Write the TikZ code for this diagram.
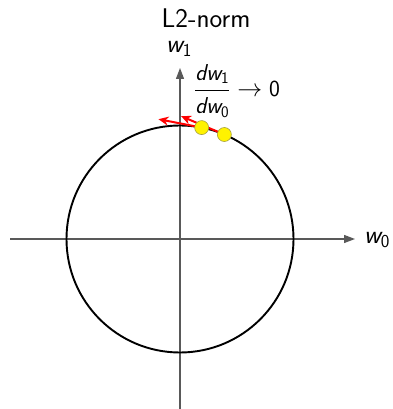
\documentclass[tikz,border=0pt]{standalone}
\usepackage{amsmath}
\usetikzlibrary{arrows.meta, calc}

\begin{document}
\begin{tikzpicture}[x=1pt, y=1pt,
  axis/.style={draw=black!65, line width=1.3pt, -{Triangle[length=11pt, width=8pt]}},
  grad/.style={draw=red, line width=2pt, -{Stealth[length=10pt, width=9pt]}},
  ball/.style={circle, fill=yellow, draw=black!40!yellow, line width=0.6pt, minimum size=14pt, inner sep=0pt},
  lbl/.style={font=\sffamily\fontsize{26}{30}\selectfont, inner sep=0pt}]
\useasboundingbox (0,0) rectangle (392,409);
% unit ball of the L2 norm
\def\r{113.5}
\coordinate (O) at (180,170);
\coordinate (W0a) at (10,170);
\coordinate (W0b) at (355,170);
\coordinate (W1a) at (180,0);
\coordinate (W1b) at (180,341);

\draw[axis] (W0a) -- (W0b);
\draw[axis] (W1a) -- (W1b);
\draw[line width=1.9pt] (O) circle (\r);

% two points and their tangent directions
\coordinate (P1) at ($(O)+(79:\r)$);
\coordinate (P2) at ($(O)+(67:\r)$);
\coordinate (T1) at ($(P1)+(169:44)$);
\coordinate (T2) at ($(P2)+(157:47)$);
\draw[grad] (P2) -- (T2);
\draw[grad] (P1) -- (T1);
\node[ball] (b1) at (P1) {};
\node[ball] (b2) at (P2) {};

\node[lbl, font=\sffamily\fontsize{27}{32}\selectfont, anchor=base] (title) at (206,381) {L2-norm};
\node[lbl, anchor=base] (w1) at (179,356) {$\textit{w}_{\text{1}}$};
\node[lbl, anchor=base] (w0) at (377,165) {$\textit{w}_{\text{0}}$};
\node[lbl, font=\sffamily\fontsize{23}{27}\selectfont] (ratio) at (237,318) {$\dfrac{\textit{dw}_{\text{1}}}{\textit{dw}_{\text{0}}} \rightarrow \text{0}$};
\end{tikzpicture}
\end{document}
